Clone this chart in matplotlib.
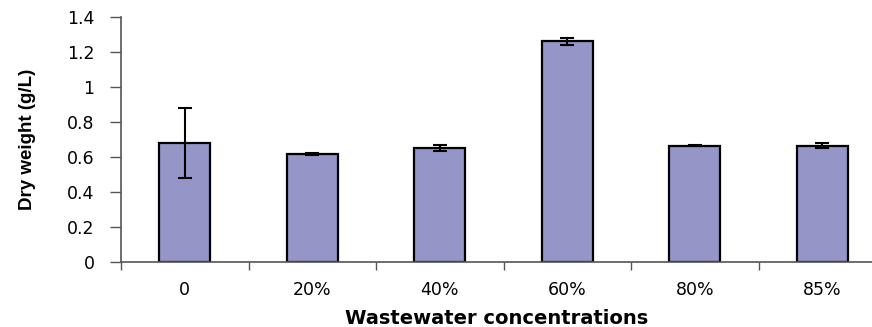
import matplotlib
matplotlib.use('Agg')
import matplotlib.pyplot as plt
import numpy as np

# values
categories = ['0', '20%', '40%', '60%', '80%', '85%']
dry_weight = [0.68, 0.617, 0.651, 1.262, 0.665, 0.665]
std_err = [0.2, 0.005, 0.018, 0.02, 0.004, 0.015]
y_ticks = [0, 0.2, 0.4, 0.6, 0.8, 1, 1.2, 1.4]
y_tick_labels = ['0', '0.2', '0.4', '0.6', '0.8', '1', '1.2', '1.4']

plt.rcParams['font.family'] = ['DejaVu Sans']

fig = plt.figure(figsize=(8.72, 3.27), dpi=100)
W, H = 872, 327
ax = fig.add_axes([121 / W, 1 - 262 / H, 1 - 121 / W, (262 - 17) / H])

x = np.arange(len(categories))
ax.bar(x, dry_weight, width=0.4, color='#9595C8', edgecolor='black', linewidth=1.6,
       yerr=std_err, error_kw=dict(ecolor='black', elinewidth=1.5, capsize=5, capthick=1.5))

ax.set_xlim(-0.5, 5.39)
ax.set_ylim(0, 1.4)
ax.set_yticks(y_ticks)
ax.set_yticklabels(y_tick_labels)

# category labels sit between the boundary ticks
ax.set_xticks(x)
ax.set_xticklabels(categories)
ax.set_xticks(np.arange(-0.5, 5.5, 1), minor=True)
ax.tick_params(axis='x', which='major', length=0, pad=14, labelsize=12.5)
ax.tick_params(axis='x', which='minor', length=6, width=1, color='#555555', direction='out')
ax.tick_params(axis='y', length=8, width=1, color='#555555', labelsize=12.5, pad=11)

for s in ['top', 'right']:
    ax.spines[s].set_visible(False)
for s in ['left', 'bottom']:
    ax.spines[s].set_color('#555555')
    ax.spines[s].set_linewidth(1.2)

ax.set_xlabel('Wastewater concentrations', fontsize=14, fontweight='bold', labelpad=7)
ax.set_ylabel('Dry weight (g/L)', fontsize=13.5, fontweight='bold', labelpad=22,
              family='Liberation Sans')

fig.savefig('out.png', dpi=100)
